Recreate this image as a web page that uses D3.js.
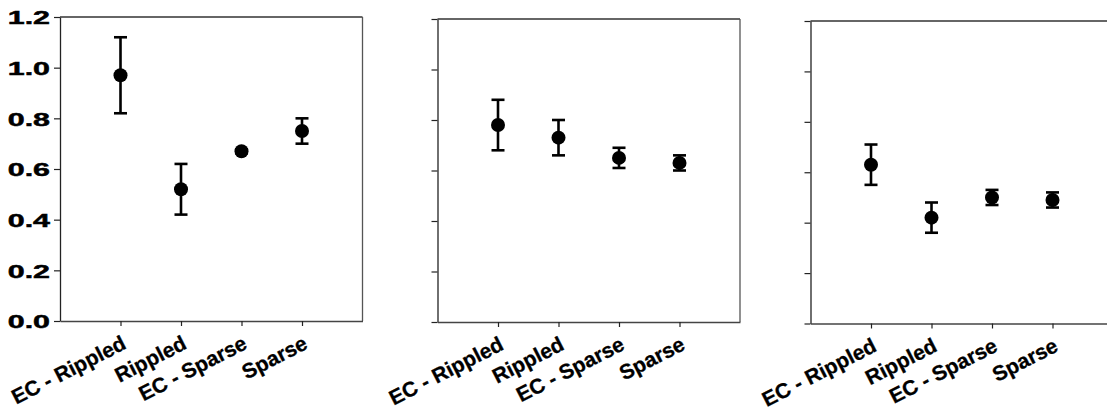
<!DOCTYPE html>
<html>
<head>
<meta charset="utf-8">
<script src="https://cdn.jsdelivr.net/npm/d3@7"></script>
<style>
  html, body { margin: 0; padding: 0; background: #fff; }
  svg { display: block; }
  text { font-family: Arial, "Liberation Sans", sans-serif; font-weight: bold; fill: #000; }
</style>
</head>
<body>
<svg id="chart" width="1107" height="414"></svg>
<script>
// Treatment categories shared by all three panels
const categories = ["EC - Rippled", "Rippled", "EC - Sparse", "Sparse"];

// Mean values and error half-widths for each panel
const panel1Means = [0.97, 0.52, 0.67, 0.75];
const panel1Errors = [0.15, 0.10, 0.008, 0.05];
const panel2Means = [0.78, 0.73, 0.65, 0.63];
const panel2Errors = [0.10, 0.07, 0.04, 0.03];
const panel3Means = [0.63, 0.42, 0.50, 0.49];
const panel3Errors = [0.08, 0.06, 0.03, 0.03];

// Y axis ticks
const yTicks = [0.0, 0.2, 0.4, 0.6, 0.8, 1.0, 1.2];
const yDomain = [0, 1.2];

const panels = [
  { means: panel1Means, errors: panel1Errors, left: 60,    top: 17, bottom: 321,   showLabels: true },
  { means: panel2Means, errors: panel2Errors, left: 437.5, top: 19, bottom: 322,   showLabels: false },
  { means: panel3Means, errors: panel3Errors, left: 810.5, top: 21, bottom: 323.5, showLabels: false }
];
const panelWidth = 302.5;

const svg = d3.select("#chart");

panels.forEach(p => {
  const right = p.left + panelWidth;
  const x = d3.scaleLinear().domain([0, categories.length + 1]).range([p.left, right]);
  const y = d3.scaleLinear().domain(yDomain).range([p.bottom, p.top]);
  const g = svg.append("g");

  // Frame (top and right sides)
  g.append("line")
    .attr("x1", p.left).attr("x2", right)
    .attr("y1", p.top).attr("y2", p.top)
    .attr("stroke", "#333").attr("stroke-width", 1.3);
  g.append("line")
    .attr("x1", right).attr("x2", right)
    .attr("y1", p.top).attr("y2", p.bottom)
    .attr("stroke", "#555").attr("stroke-width", 1.3);

  // Left axis
  const yAxis = d3.axisLeft(y)
    .tickValues(yTicks)
    .tickSize(6)
    .tickSizeOuter(0)
    .tickFormat("");
  const ya = g.append("g")
    .attr("transform", `translate(${p.left},0)`)
    .call(yAxis);
  ya.select(".domain").attr("stroke", "#222").attr("stroke-width", 1.3);
  ya.selectAll(".tick line").attr("stroke", "#222").attr("stroke-width", 1.2);
  ya.selectAll(".tick text").remove();

  // Wide bold tick labels on the first panel only
  if (p.showLabels) {
    const fmt = d3.format(".1f");
    ya.selectAll(".tick")
      .append("text")
      .attr("text-anchor", "end")
      .attr("dy", "0.36em")
      .attr("font-size", 19)
      .attr("stroke", "#000")
      .attr("stroke-width", 0.5)
      .attr("transform", "translate(-10,0) scale(1.6,1)")
      .text(d => fmt(d));
  }

  // Bottom axis
  const xAxis = d3.axisBottom(x)
    .tickValues(d3.range(1, categories.length + 1))
    .tickSize(5)
    .tickSizeOuter(0)
    .tickFormat(() => "");
  const xa = g.append("g")
    .attr("transform", `translate(0,${p.bottom})`)
    .call(xAxis);
  xa.select(".domain").attr("stroke", "#444").attr("stroke-width", 1.3);
  xa.selectAll(".tick line").attr("stroke", "#222").attr("stroke-width", 1.2);

  // Slanted category labels
  g.selectAll(".cat")
    .data(categories)
    .join("text")
    .attr("class", "cat")
    .attr("text-anchor", "end")
    .attr("font-size", 21)
    .attr("stroke", "#000")
    .attr("stroke-width", 0.3)
    .attr("transform", (d, i) => `translate(${x(i + 1) + 7},${p.bottom + 27}) rotate(-27)`)
    .text(d => d);

  // Error bars
  const cap = 6.5;
  const bars = g.selectAll(".err")
    .data(p.means.map((m, i) => ({ m, e: p.errors[i], i })))
    .join("g")
    .attr("class", "err")
    .attr("stroke", "#000")
    .attr("stroke-width", 2.6);
  bars.append("line")
    .attr("x1", d => x(d.i + 1)).attr("x2", d => x(d.i + 1))
    .attr("y1", d => y(d.m + d.e)).attr("y2", d => y(d.m - d.e));
  bars.append("line")
    .attr("x1", d => x(d.i + 1) - cap).attr("x2", d => x(d.i + 1) + cap)
    .attr("y1", d => y(d.m + d.e)).attr("y2", d => y(d.m + d.e));
  bars.append("line")
    .attr("x1", d => x(d.i + 1) - cap).attr("x2", d => x(d.i + 1) + cap)
    .attr("y1", d => y(d.m - d.e)).attr("y2", d => y(d.m - d.e));

  // Mean markers
  g.selectAll(".pt")
    .data(p.means)
    .join("circle")
    .attr("class", "pt")
    .attr("cx", (d, i) => x(i + 1))
    .attr("cy", d => y(d))
    .attr("r", 7)
    .attr("fill", "#000");
});
</script>
</body>
</html>
